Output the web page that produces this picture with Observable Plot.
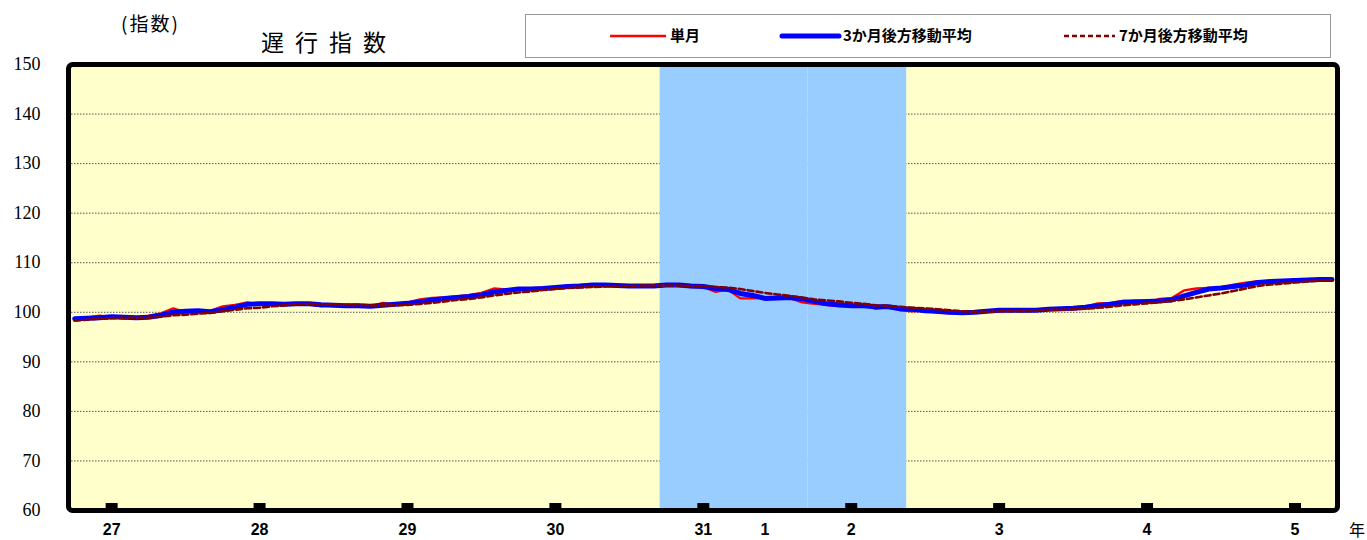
<!DOCTYPE html>
<html><head><meta charset="utf-8">
<script src="https://cdn.jsdelivr.net/npm/d3@7"></script>
<script src="https://cdn.jsdelivr.net/npm/@observablehq/plot@0.6"></script>
<style>
body{margin:0;background:#fff;}
#wrap{position:relative;width:1367px;height:540px;overflow:hidden;}
#wrap svg{position:absolute;left:0;top:0;}
.t{position:absolute;white-space:nowrap;color:#000;line-height:1;}
#unit{left:121px;top:13px;font-family:"Noto Sans CJK JP";font-size:19px;letter-spacing:2px;}
#title{left:261px;top:30px;font-family:"Noto Sans CJK JP";font-size:23px;letter-spacing:11px;}
#nen{left:1349px;top:521px;font-family:"Noto Sans CJK JP";font-size:16px;}
#legend{position:absolute;left:525px;top:14px;width:804px;height:42px;border:1px solid #999;background:#fff;}
.lt{position:absolute;top:12px;font-family:"Noto Sans CJK JP";font-weight:bold;font-size:15px;line-height:1;}
g[aria-label="y-axis tick label"]{font-family:"Liberation Serif",serif;font-size:18px;}
g[aria-label="x-axis tick label"]{font-family:"Liberation Sans Narrow","Liberation Sans",sans-serif;font-size:16px;font-weight:bold;}
</style></head><body>
<div id="wrap"></div>
<script>
// month index: 0 = January of 平成27年 (2015); -3 = October 2014
const months = d3.range(-3, 100);
const single = [
 98.4,98.9,99.3,99.0,98.7,99.0,99.3,99.8,100.8,100.0,
 100.0,100.3,101.2,101.5,102.0,101.5,101.6,101.8,101.7,101.6,
 101.2,101.5,101.3,101.2,101.2,101.9,101.6,102.0,102.6,102.9,
 103.0,103.2,103.5,103.9,104.8,104.6,104.7,104.8,105.0,105.1,
 105.4,105.5,105.5,105.4,105.3,105.2,105.3,105.5,105.6,105.3,
 105.1,105.1,104.1,104.6,102.8,102.8,102.9,103.1,102.9,102.0,
 101.7,101.5,101.2,101.2,101.4,100.7,101.1,100.4,100.2,100.4,
 99.9,99.8,99.9,100.2,100.4,100.6,100.3,100.4,100.6,100.7,
 100.8,101.0,101.2,101.8,101.9,102.3,102.2,102.0,102.7,102.9,
 104.4,104.8,104.9,105.0,105.6,106.0,106.3,106.3,106.3,106.7,
 106.5,106.6,106.8];
const ma3 = [
 98.7,98.8,98.9,99.1,99.0,98.9,99.0,99.4,100.0,100.2,
 100.3,100.1,100.5,101.0,101.6,101.7,101.7,101.6,101.7,101.7,
 101.5,101.4,101.3,101.3,101.2,101.4,101.6,101.8,102.1,102.5,
 102.8,103.0,103.2,103.5,104.1,104.4,104.7,104.7,104.8,105.0,
 105.2,105.3,105.5,105.5,105.4,105.3,105.3,105.3,105.5,105.5,
 105.3,105.2,104.8,104.6,103.8,103.4,102.8,102.9,103.0,102.7,
 102.2,101.7,101.5,101.3,101.3,101.1,101.1,100.7,100.6,100.3,
 100.2,100.0,99.9,100.0,100.2,100.4,100.4,100.4,100.4,100.6,
 100.7,100.8,101.0,101.3,101.6,102.0,102.1,102.2,102.3,102.5,
 103.3,104.0,104.7,104.9,105.2,105.5,106.0,106.2,106.3,106.4,
 106.5,106.6,106.6];
const ma7 = [
 98.3,98.5,98.7,98.8,98.9,98.9,98.9,99.1,99.4,99.5,
 99.7,99.9,100.2,100.5,100.8,100.9,101.2,101.4,101.6,101.7,
 101.6,101.6,101.5,101.5,101.4,101.4,101.4,101.5,101.7,101.9,
 102.2,102.5,102.7,103.0,103.4,103.7,104.0,104.2,104.5,104.7,
 104.9,105.0,105.1,105.2,105.3,105.3,105.4,105.4,105.4,105.4,
 105.3,105.3,105.1,105.0,104.7,104.3,103.9,103.6,103.3,103.0,
 102.6,102.4,102.2,101.9,101.7,101.4,101.3,101.1,100.9,100.8,
 100.6,100.4,100.2,100.1,100.1,100.2,100.2,100.2,100.3,100.5,
 100.5,100.6,100.7,100.9,101.1,101.4,101.6,101.8,102.0,102.3,
 102.6,103.0,103.4,103.8,104.3,104.8,105.3,105.6,105.8,106.0,
 106.2,106.4,106.5];
const yTicks = [60,70,80,90,100,110,120,130,140,150];
const gridValues = [70,80,90,100,110,120,130,140];
const yearTickMonths = [0,12,24,36,48,60,72,84,96];
const xLabelPos = [0,12,24,36,48,53,60,72,84,96];
const xLabels = ["27","28","29","30","31","1","2","3","4","5"];
const recession = [{start:44.5,end:56.5},{start:56.5,end:64.5}];
const seriesNames = ["単月","3か月後方移動平均","7か月後方移動平均"];

const rows = months.map((m,i)=>({m, single:single[i], ma3:ma3[i], ma7:ma7[i]}));

const chart = Plot.plot({
  width:1367, height:540,
  marginLeft:68, marginRight:30, marginTop:64, marginBottom:30,
  x:{domain:[-3.5,99.45]},
  y:{domain:[60,150]},
  style:{background:"transparent", overflow:"visible"},
  marks:[
    Plot.frame({fill:"#FFFFCC"}),
    Plot.ruleY(gridValues, {stroke:"#555", strokeWidth:1, strokeDasharray:"1.5,1.5"}),
    Plot.rect(recession, {x1:"start", x2:"end", y1:60, y2:150, fill:"#99CCFF"}),
    Plot.line(rows, {x:"m", y:"single", stroke:"#FF0000", strokeWidth:2.3}),
    Plot.line(rows, {x:"m", y:"ma3", stroke:"#0000FF", strokeWidth:5}),
    Plot.line(rows, {x:"m", y:"ma7", stroke:"#800000", strokeWidth:2.6, strokeDasharray:"6,3"}),
    Plot.ruleX(yearTickMonths, {stroke:"black", strokeWidth:12, insetTop:439}),
    Plot.frame({stroke:"black", strokeWidth:5, rx:4}),
    Plot.axisY({ticks:yTicks, tickSize:0, tickPadding:28, fontSize:18, fontFamily:"Liberation Serif", tickFormat:d=>String(d)}),
    Plot.axisX({ticks:xLabelPos, tickSize:0, tickPadding:13, fontSize:16, tickFormat:d=>xLabels[xLabelPos.indexOf(d)]})
  ]
});
const wrap = document.getElementById("wrap");
wrap.appendChild(chart);

function addText(id, cls, txt){const d=document.createElement("div");d.id=id;d.className=cls;d.textContent=txt;wrap.appendChild(d);return d;}
addText("unit","t","(指数)");
addText("title","t","遅行指数");
addText("nen","t","年");

const legend = document.createElement("div");
legend.id="legend";
wrap.appendChild(legend);
const sw = [
  {x1:84,x2:140,color:"#FF0000",w:2.3,dash:null,tx:144},
  {x1:256,x2:313,color:"#0000FF",w:5,dash:null,tx:317},
  {x1:538,x2:589,color:"#800000",w:2.6,dash:"5,3",tx:593}
];
const ns="http://www.w3.org/2000/svg";
const lsvg=document.createElementNS(ns,"svg");
lsvg.setAttribute("width","804");lsvg.setAttribute("height","42");
lsvg.style.position="absolute";lsvg.style.left="0";lsvg.style.top="0";
legend.appendChild(lsvg);
sw.forEach((s,i)=>{
  const l=document.createElementNS(ns,"line");
  l.setAttribute("x1",s.x1);l.setAttribute("x2",s.x2);
  l.setAttribute("y1",21);l.setAttribute("y2",21);
  l.setAttribute("stroke",s.color);l.setAttribute("stroke-width",s.w);
  if(s.dash) l.setAttribute("stroke-dasharray",s.dash);
  if(i===1) l.setAttribute("stroke-linecap","round");
  lsvg.appendChild(l);
  const t=document.createElement("div");t.className="lt";t.style.left=s.tx+"px";t.textContent=seriesNames[i];
  legend.appendChild(t);
});
</script>
</body></html>
